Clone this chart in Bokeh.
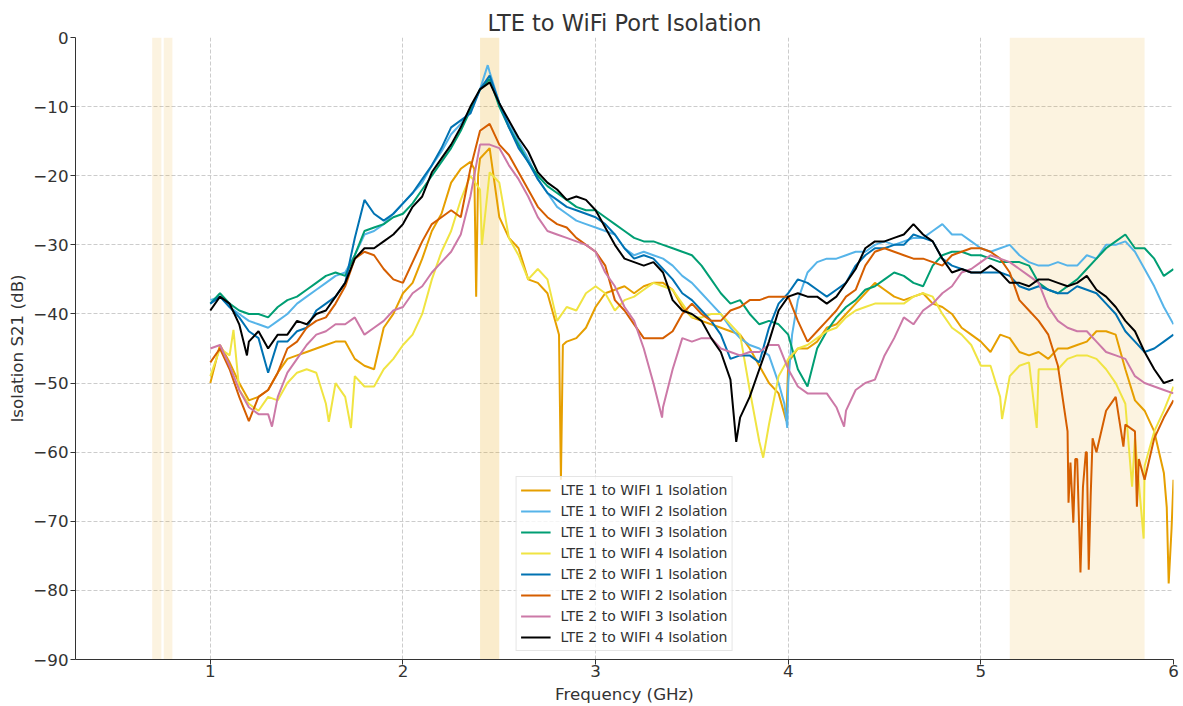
from bokeh.plotting import figure
from bokeh.models import BoxAnnotation, Legend, LegendItem, Range1d, FixedTicker
from bokeh.embed import file_html
from bokeh.resources import INLINE

# ---------------- data ----------------
freq = [round(1.0 + 0.05 * i, 2) for i in range(101)]

lte1_wifi1 = [
    -50, -44.5, -47, -50, -52.5, -52, -51, -48.5, -46.5, -46,
    -45.5, -45, -44.5, -44, -44, -46.5, -47.5, -48, -42, -40,
    -37, -35.5, -32, -28, -25.5, -21, -19, -18, -17.5, -16,
    -26, -29, -30.5, -35, -35.5, -37, -42, -44, -43.5, -42,
    -39, -37, -36.5, -36, -37, -36, -35.5, -35.5, -36.5, -39,
    -40.5, -41, -41.5, -42, -42.5, -43, -45, -47.5, -50, -51.5,
    -47, -45, -45, -44, -42, -41.5, -40, -38.5, -37, -35.5,
    -36.5, -37.5, -38, -37.5, -37, -38.5, -39, -40, -42, -43,
    -44, -45.5, -43, -43.5, -45.5, -46, -45.5, -46.5, -45, -45,
    -44.5, -44, -42.5, -42.5, -43, -48, -52.5, -54, -57, -63,
    -64]
lte1_wifi1_xf = [2.37, 2.38, 2.39, 2.81, 2.82, 2.83, 3.99, 5.965, 5.975, 5.99]
lte1_wifi1_xv = [-19, -37.5, -20, -43, -64, -44.5, -55.5, -68, -79, -71]

lte1_wifi2 = [
    -38, -37.5, -39, -40, -41, -41.5, -42, -41, -40, -38.5,
    -37.5, -36.5, -35.5, -34.5, -34, -31.5, -28.5, -28, -27, -25.5,
    -24, -22.5, -21, -18.5, -16.5, -14, -12.5, -10.5, -7.5, -5,
    -9.5, -12.5, -15, -17.5, -20.5, -22.5, -24.5, -25.5, -26.5, -27,
    -27.5, -28, -28.5, -30.5, -31.5, -31, -31.5, -32, -33, -34.5,
    -35.5, -37, -38.5, -40, -42, -43.5, -44.5, -45, -46, -50,
    -50, -38, -34, -32.5, -32, -32, -31.5, -31, -31, -30,
    -29.5, -30, -29.5, -29, -29, -28, -27, -28.5, -28.5, -29.5,
    -30.5, -31, -30.5, -30, -31.5, -32.5, -33, -33, -32.5, -33,
    -33, -31.5, -32, -30, -30, -29.5, -31, -33.5, -36, -39,
    -41.5]
lte1_wifi2_xf = [2.44, 3.98, 3.995, 4.02]
lte1_wifi2_xv = [-4, -53, -56.5, -43]

lte1_wifi3 = [
    -38.5, -37, -38.5, -39.5, -40, -40, -40.5, -39, -38, -37.5,
    -36.5, -35.5, -34.5, -34, -34.5, -31.5, -28, -27.5, -27, -26,
    -25.5, -24, -22, -20, -18, -16, -13.5, -10.5, -7.5, -6,
    -10, -13, -15.5, -18, -20, -21.5, -22.5, -23.5, -24.5, -25,
    -25, -26, -27, -28, -29, -29.5, -29.5, -30, -30.5, -31,
    -31.5, -33, -35, -37, -38.5, -38, -40, -41.5, -41, -41.5,
    -43, -48, -50.5, -45, -42.5, -40.5, -39, -38, -36.5, -36,
    -35, -34, -34.5, -35.5, -36, -33, -31.5, -31, -31, -31.5,
    -31.5, -32, -32.5, -32.5, -32.5, -33, -35.5, -36.5, -37, -36,
    -35, -33.5, -32, -30.5, -29.5, -28.5, -30.5, -30.5, -32, -34.5,
    -33.5]
lte1_wifi3_xf = []
lte1_wifi3_xv = []

lte1_wifi4 = [
    -49, -45, -46, -51, -53, -54, -52, -52.5, -50, -48.5,
    -48, -48.5, -53, -50, -52, -49, -50.5, -50.5, -48, -46.5,
    -44.5, -43, -40, -35, -31, -28, -23.5, -20, -22, -19.5,
    -21, -29, -31.5, -35, -33.5, -35, -41, -39, -39.5, -37,
    -36, -37, -39.5, -38, -37.5, -36.5, -35.5, -36, -36.5, -38.5,
    -40.5, -40.5, -40, -40, -41.5, -43, -51, -58.5, -56, -49,
    -46.5, -45, -44.5, -43.5, -42.5, -42, -40.5, -39.5, -39, -38.5,
    -38.5, -38.5, -38.5, -37.5, -37, -37.5, -40, -42, -43, -44.5,
    -47.5, -47.5, -52, -49, -47.5, -47, -48, -48, -48, -46.5,
    -46, -46, -46.5, -48, -50, -53, -58, -62, -57, -54,
    -50.5]
lte1_wifi4_xf = [1.12, 1.615, 1.73, 2.41, 3.87, 5.11, 5.29, 5.785, 5.845]
lte1_wifi4_xv = [-42.3, -55.6, -56.5, -30, -60.8, -55.2, -56.5, -65, -72.5]

lte2_wifi1 = [
    -38.5, -37.5, -39, -40.5, -42.5, -43.5, -48.5, -44, -44, -42.5,
    -42, -39.5, -38.5, -37.5, -35.5, -29, -23.5, -25.5, -26.5, -25.5,
    -24, -22.5, -20.5, -18.5, -16, -13, -12, -11, -7.5, -5.5,
    -9.5, -13, -16, -18, -20.5, -22.5, -23.5, -24.5, -25, -25.5,
    -26, -27, -28.5, -30.5, -32, -31.5, -32, -33.5, -35, -37,
    -38, -39.5, -41, -43, -46.5, -46, -46, -47, -42, -38.5,
    -37, -35, -35.5, -36.5, -37.5, -36.5, -35.5, -33, -31.5, -30.5,
    -30.5, -30, -30, -28.5, -29, -29.5, -32, -33, -33.5, -34,
    -34, -34, -34, -34.5, -36, -36.5, -36, -36.5, -37, -37,
    -36, -36.5, -37, -38.5, -40, -42.5, -44, -45.5, -45, -44,
    -43]
lte2_wifi1_xf = []
lte2_wifi1_xv = []

lte2_wifi2 = [
    -47, -45, -48, -52, -55.5, -52, -51, -48.5, -45, -44,
    -42, -41, -40.5, -38.5, -36, -32, -31, -31.5, -33.5, -35,
    -35.5, -32.5, -29.5, -27, -26, -25, -26, -19, -13.5, -12.5,
    -15.5, -17, -19.5, -22, -24.5, -26, -27, -27.5, -29, -30,
    -31, -33, -38, -39.5, -41.5, -43.5, -43.5, -43.5, -42.5, -40,
    -38.5, -40, -41, -41, -39.5, -39, -38, -38, -37.5, -37.5,
    -37.5, -41, -44, -42.5, -41, -39.5, -37.5, -36.5, -33, -31,
    -30.5, -31, -31.5, -32, -32, -32.5, -33, -31.5, -31, -30.5,
    -30.5, -31, -32, -34, -38, -39.5, -41, -43, -47.5, -57,
    -61, -60, -60, -54, -52, -56, -57, -64, -58, -55,
    -52.5]
lte2_wifi2_xf = [5.455, 5.465, 5.48, 5.49, 5.517, 5.53, 5.545, 5.56, 5.57, 5.58,
                 5.74, 5.81, 5.82]
lte2_wifi2_xv = [-67.3, -61.5, -70.2, -61, -77.4, -65, -60, -77, -66.4, -58,
                 -59.2, -67.9, -61]

lte2_wifi3 = [
    -45, -44.5, -47.5, -51, -53.5, -54.5, -54.5, -52, -48.5, -46.5,
    -44.5, -43, -42.5, -41.5, -41.5, -40.5, -43, -42, -41, -39.5,
    -39, -37, -36, -34, -32.5, -31, -28.5, -23, -15.5, -15.5,
    -16, -18.5, -20.5, -23, -26, -28, -28.5, -29, -29.5, -30,
    -31, -34, -36, -39, -41, -45, -50, -53.5, -48, -43.5,
    -44, -43.5, -43.5, -45, -45.5, -46, -45.5, -45.5, -44.5, -44.5,
    -48, -50.5, -51.5, -51.5, -51.5, -53.5, -54, -51, -50, -49.5,
    -46, -43.5, -40.5, -41.5, -39.5, -38.5, -37, -36, -34, -33.5,
    -32.5, -31.5, -32, -32.5, -33.5, -34.5, -35.5, -39, -41, -42,
    -42.5, -42.5, -44, -45.5, -46, -46.5, -49, -50, -50.5, -51,
    -51.5]
lte2_wifi3_xf = [1.32, 3.345, 4.29]
lte2_wifi3_xv = [-56.3, -55, -56.3]

lte2_wifi4 = [
    -39.5, -37.5, -38.5, -41.5, -44, -42.5, -45, -43, -43, -41,
    -41.5, -40, -39.5, -37.5, -35.5, -32, -30.5, -30.5, -29.5, -28.5,
    -27, -24.5, -23, -19.5, -17.5, -15.5, -13, -10, -7.5, -6.5,
    -9.5, -12, -14.5, -16.5, -19.5, -21, -22, -23.5, -23, -23.5,
    -25, -27.5, -30, -32, -32.5, -33, -32.5, -34, -38, -39.5,
    -40, -41, -43.5, -45.5, -49.5, -55, -52, -48, -44, -39.5,
    -37.5, -37, -37.5, -37.5, -38.5, -37.5, -35.5, -33.5, -30.5, -29.5,
    -29.5, -29, -28.5, -27, -28.5, -29.5, -32, -34, -33.5, -34,
    -34, -33, -34, -35.5, -35.5, -36, -35, -35, -35.5, -36,
    -35.5, -34.5, -36.5, -37.5, -39, -41, -42.5, -45.5, -48, -50,
    -49.5]
lte2_wifi4_xf = [1.19, 3.73]
lte2_wifi4_xv = [-46, -58.5]

series_labels = [
    "LTE 1 to WIFI 1 Isolation", "LTE 1 to WIFI 2 Isolation",
    "LTE 1 to WIFI 3 Isolation", "LTE 1 to WIFI 4 Isolation",
    "LTE 2 to WIFI 1 Isolation", "LTE 2 to WIFI 2 Isolation",
    "LTE 2 to WIFI 3 Isolation", "LTE 2 to WIFI 4 Isolation",
]
series_values = [lte1_wifi1, lte1_wifi2, lte1_wifi3, lte1_wifi4,
                 lte2_wifi1, lte2_wifi2, lte2_wifi3, lte2_wifi4]
series_extra_f = [lte1_wifi1_xf, lte1_wifi2_xf, lte1_wifi3_xf, lte1_wifi4_xf,
                  lte2_wifi1_xf, lte2_wifi2_xf, lte2_wifi3_xf, lte2_wifi4_xf]
series_extra_v = [lte1_wifi1_xv, lte1_wifi2_xv, lte1_wifi3_xv, lte1_wifi4_xv,
                  lte2_wifi1_xv, lte2_wifi2_xv, lte2_wifi3_xv, lte2_wifi4_xv]
series_colors = ["#E69F00", "#56B4E9", "#009E73", "#F0E442",
                 "#0072B2", "#D55E00", "#CC79A7", "#000000"]

# shaded bands (GHz)
band_lo = [0.698, 0.758, 2.4, 5.15]
band_hi = [0.746, 0.803, 2.5, 5.85]
band_alpha = [0.12, 0.12, 0.2, 0.12]

x_ticks = [1, 2, 3, 4, 5, 6]
y_ticks = [0, -10, -20, -30, -40, -50, -60, -70, -80, -90]

FONT = "DejaVu Sans"
TXT = "#333333"

p = figure(width=1183, height=706, x_range=Range1d(0.3, 6.0), y_range=Range1d(-90, 0),
           output_backend="svg", toolbar_location=None,
           min_border_left=75, min_border_right=10, min_border_top=37, min_border_bottom=46,
           title="LTE to WiFi Port Isolation")
p.outline_line_color = None
p.background_fill_color = "white"
p.title.align = "center"
p.title.text_font = FONT
p.title.text_font_size = "22.5px"
p.title.text_font_style = "normal"
p.title.text_color = TXT
p.title.offset = 0
p.title.standoff = 4

for lo, hi, a in zip(band_lo, band_hi, band_alpha):
    p.add_layout(BoxAnnotation(left=lo, right=hi, fill_color="#E69F00", fill_alpha=a,
                               line_color=None, level="underlay"))

items = []
for lab, vals, xf, xv, col in zip(series_labels, series_values, series_extra_f,
                                  series_extra_v, series_colors):
    pts = dict(zip(freq, vals))
    pts.update(zip(xf, xv))
    xs = sorted(pts)
    ys = [pts[x] for x in xs]
    r = p.line(xs, ys, line_color=col, line_width=2)
    items.append(LegendItem(label=lab, renderers=[r]))

p.xaxis.ticker = FixedTicker(ticks=x_ticks)
p.yaxis.ticker = FixedTicker(ticks=y_ticks)
p.yaxis.major_label_overrides = {t: (str(t).replace("-", "\u2212")) for t in y_ticks}
for ax in (p.xaxis[0], p.yaxis[0]):
    ax.major_label_text_font = FONT
    ax.major_label_text_font_size = "16.7px"
    ax.major_label_text_color = TXT
    ax.axis_label_text_font = FONT
    ax.axis_label_text_font_size = "16.7px"
    ax.axis_label_text_font_style = "normal"
    ax.axis_label_text_color = TXT
    ax.axis_line_color = "#333333"
    ax.major_tick_line_color = "#333333"
    ax.major_tick_out = 5
    ax.major_tick_in = 0
    ax.minor_tick_line_color = None
    ax.major_label_standoff = 2
    ax.axis_label_standoff = 3
p.xaxis.major_label_standoff = 0
p.xaxis.axis_label_standoff = 4
p.xaxis.axis_label = "Frequency (GHz)"
p.yaxis.axis_label = "Isolation S21 (dB)"

for g in (p.xgrid[0], p.ygrid[0]):
    g.grid_line_color = "#cccccc"
    g.grid_line_dash = "4 2"
    g.grid_line_width = 1

legend = Legend(items=items, location="bottom_center")
legend.margin = 8
legend.padding = 4
legend.spacing = 3
legend.label_height = 18
legend.glyph_height = 18
legend.glyph_width = 30
legend.label_standoff = 10
legend.label_text_font = FONT
legend.label_text_font_size = "14px"
legend.label_text_color = TXT
legend.border_line_color = "#cccccc"
legend.background_fill_alpha = 0.8
p.add_layout(legend)

open("out.html", "w").write(file_html(p, INLINE))
